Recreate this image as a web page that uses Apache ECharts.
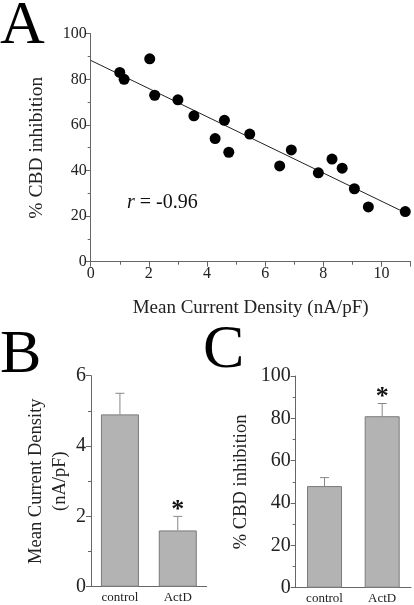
<!DOCTYPE html>
<html>
<head>
<meta charset="utf-8">
<script src="https://cdn.jsdelivr.net/npm/echarts@6/dist/echarts.min.js"></script>
<style>
html,body{margin:0;padding:0;background:#fff;}
#c{width:414px;height:605px;}
</style>
</head>
<body>
<div id="c"></div>
<script>
// Panel A data
const scatterX = [1.0, 1.15, 2.03, 2.2, 3.0, 3.55, 4.28, 4.6, 4.75, 5.47, 6.5, 6.9, 7.83, 8.3, 8.65, 9.07, 9.55, 10.82];
const scatterY = [83, 80, 89, 73, 71, 64, 54, 62, 48, 56, 42, 49, 39, 45, 41, 32, 24, 22];
const fitX = [0, 10.85];
const fitY = [88.3, 21.3];
const rText = '= -0.96';
// Panels B and C
const groups = ['control', 'ActD'];
const densityMean = [4.9, 1.6];
const densityErr = [0.6, 0.4];
const inhibMean = [48, 81];
const inhibErr = [4, 6];
const sigMarks = ['', '*'];

const FONT = '"Liberation Serif", "Times New Roman", serif';
const AXC = '#666';

function errRender(params, api) {
  const i = api.value(0);
  const m = api.value(1);
  const e = api.value(2);
  const base = api.coord([i, m]);
  const top = api.coord([i, m + e]);
  const children = [
    {type: 'line', shape: {x1: base[0], y1: base[1], x2: top[0], y2: top[1]}, style: {stroke: '#888', lineWidth: 1}},
    {type: 'line', shape: {x1: top[0] - 4.5, y1: top[1], x2: top[0] + 4.5, y2: top[1]}, style: {stroke: '#888', lineWidth: 1}}
  ];
  const mk = sigMarks[params.dataIndex];
  if (mk) {
    children.push({type: 'text', x: top[0], y: top[1] + 7, style: {text: mk, font: 'bold 26px ' + FONT, align: 'center', verticalAlign: 'bottom', fill: '#111'}});
  }
  return {type: 'group', children: children};
}

const chart = echarts.init(document.getElementById('c'), null, {renderer: 'canvas'});

const valAxisCommon = {
  axisLine: {show: true, lineStyle: {color: AXC, width: 1}},
  axisTick: {show: true, length: 5, inside: false, lineStyle: {color: AXC}},
  minorTick: {show: true, splitNumber: 2, length: 3, lineStyle: {color: AXC}},
  splitLine: {show: false},
  minorSplitLine: {show: false}
};

chart.setOption({
  animation: false,
  backgroundColor: '#fff',
  textStyle: {fontFamily: FONT},
  grid: [
    {left: 90.7, right: 3.5, top: 33.7, bottom: 343.3},
    {left: 91, right: 207.3, top: 375.7, bottom: 18.3},
    {left: 295.7, right: 3, top: 376, bottom: 17.3}
  ],
  xAxis: [
    Object.assign({}, valAxisCommon, {
      gridIndex: 0, type: 'value', min: 0, max: 11, interval: 2,
      axisLabel: {fontFamily: FONT, fontSize: 16, color: '#222', margin: 4, showMaxLabel: false},
      name: 'Mean Current Density (nA/pF)', nameLocation: 'middle', nameGap: 37,
      nameTextStyle: {fontFamily: FONT, fontSize: 19, color: '#222'}
    }),
    {
      gridIndex: 1, type: 'category', data: groups,
      axisLine: {show: true, lineStyle: {color: AXC}},
      axisTick: {show: false},
      axisLabel: {fontFamily: FONT, fontSize: 13, color: '#222', margin: 4}
    },
    {
      gridIndex: 2, type: 'category', data: groups,
      axisLine: {show: true, lineStyle: {color: AXC}},
      axisTick: {show: false},
      axisLabel: {fontFamily: FONT, fontSize: 13, color: '#222', margin: 4}
    }
  ],
  yAxis: [
    Object.assign({}, valAxisCommon, {
      gridIndex: 0, type: 'value', min: 0, max: 100, interval: 20,
      axisLabel: {fontFamily: FONT, fontSize: 16, color: '#222', margin: 4},
      name: '% CBD inhibition', nameLocation: 'middle', nameGap: 44, nameRotate: 90,
      nameTextStyle: {fontFamily: FONT, fontSize: 19.5, color: '#222'}
    }),
    Object.assign({}, valAxisCommon, {
      gridIndex: 1, type: 'value', min: 0, max: 6, interval: 2,
      axisLabel: {fontFamily: FONT, fontSize: 20, color: '#222', margin: 5},
      name: 'Mean Current Density\n(nA/pF)', nameLocation: 'middle', nameGap: 17, nameRotate: 90,
      nameTextStyle: {fontFamily: FONT, fontSize: 18.5, color: '#222', lineHeight: 24}
    }),
    Object.assign({}, valAxisCommon, {
      gridIndex: 2, type: 'value', min: 0, max: 100, interval: 20,
      axisLabel: {fontFamily: FONT, fontSize: 20, color: '#222', margin: 5},
      name: '% CBD inhibition', nameLocation: 'middle', nameGap: 45, nameRotate: 90,
      nameTextStyle: {fontFamily: FONT, fontSize: 18.5, color: '#222'}
    })
  ],
  series: [
    {
      type: 'line', xAxisIndex: 0, yAxisIndex: 0,
      data: fitX.map((x, i) => [x, fitY[i]]),
      symbol: 'none', lineStyle: {color: '#222', width: 1}, z: 2
    },
    {
      type: 'scatter', xAxisIndex: 0, yAxisIndex: 0,
      data: scatterX.map((x, i) => [x, scatterY[i]]),
      symbol: 'circle', symbolSize: 11, itemStyle: {color: '#000', opacity: 1}, z: 3
    },
    {
      type: 'bar', xAxisIndex: 1, yAxisIndex: 1, data: densityMean, barWidth: 38,
      itemStyle: {color: '#b3b3b3', borderColor: '#7a7a7a', borderWidth: 1}
    },
    {
      type: 'custom', xAxisIndex: 1, yAxisIndex: 1,
      data: groups.map((g, i) => [i, densityMean[i], densityErr[i]]),
      renderItem: errRender, z: 3
    },
    {
      type: 'bar', xAxisIndex: 2, yAxisIndex: 2, data: inhibMean, barWidth: 35,
      itemStyle: {color: '#b3b3b3', borderColor: '#7a7a7a', borderWidth: 1}
    },
    {
      type: 'custom', xAxisIndex: 2, yAxisIndex: 2,
      data: groups.map((g, i) => [i, inhibMean[i], inhibErr[i]]),
      renderItem: errRender, z: 3
    }
  ],
  graphic: [
    {type: 'text', left: 0, top: -4, style: {text: 'A', font: '62px ' + FONT, fill: '#000'}},
    {type: 'text', left: 0, top: 325, style: {text: 'B', font: '62px ' + FONT, fill: '#000'}},
    {type: 'text', left: 203, top: 320, style: {text: 'C', font: '62px ' + FONT, fill: '#000'}},
    {type: 'text', left: 127, top: 193, style: {
      text: '{i|r} ' + rText,
      font: '20px ' + FONT, fill: '#111',
      rich: {i: {fontStyle: 'italic', fontFamily: FONT, fontSize: 20}}
    }}
  ]
});
</script>
</body>
</html>
